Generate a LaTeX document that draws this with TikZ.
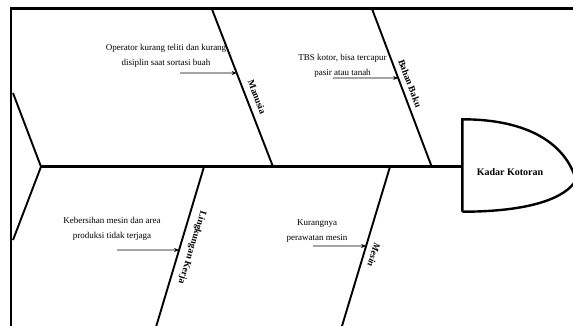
\documentclass[tikz,border=0pt]{standalone}
\usepackage{fontspec}
\setmainfont{Liberation Serif}
\usetikzlibrary{arrows.meta,calc}
\begin{document}
\begin{tikzpicture}[x=1pt,y=-1pt,
  frame/.style={line width=2.4pt},
  spine/.style={line width=2.6pt},
  bone/.style={line width=1.9pt},
  cause/.style={font=\fontsize{9}{15}\selectfont, align=center, inner sep=0pt},
  bonelabel/.style={font=\bfseries\fontsize{9.5}{10}\selectfont, inner sep=0pt},
  headlabel/.style={font=\bfseries\fontsize{10}{11}\selectfont, inner sep=0pt},
  arr/.style={line width=0.8pt, -{Stealth[length=5pt,width=4pt]}}]
\useasboundingbox (0,0) rectangle (573,325);
% frame
\coordinate (fTR) at (575,8.5);
\coordinate (fTL) at (11.2,8.5);
\coordinate (fBL) at (11.2,327);
\draw[frame] (fTR) -- (fTL) -- (fBL);
% tail and spine
\coordinate (tailA) at (13,93);
\coordinate (tailB) at (13,240);
\coordinate (tailApex) at (41,166.7);
\coordinate (headL) at (462.3,166.7);
\draw[bone] (tailA) -- (tailApex) -- (tailB);
\draw[spine] (tailApex) -- (headL);
% head
\coordinate (hTop) at (462.3,119.3);
\coordinate (hBot) at (462.3,211.7);
\coordinate (hTip) at (576,180);
\draw[frame] (hBot) -- (hTop) .. controls (530,119.3) and (566,145) .. (hTip)
  .. controls (566,198) and (530,211.7) .. (hBot);
\node[headlabel] (head) at (510,172) {Kadar Kotoran};
% bones
\coordinate (mTop) at (211.5,8);
\coordinate (mBot) at (273,166.7);
\coordinate (bTop) at (371.7,8);
\coordinate (bBot) at (431.7,166.7);
\coordinate (lTop) at (204,166.7);
\coordinate (lBot) at (156,327);
\coordinate (sTop) at (390,166.7);
\coordinate (sBot) at (341.7,327);
\draw[bone] (mTop) -- (mBot);
\draw[bone] (bTop) -- (bBot);
\draw[bone] (lTop) -- (lBot);
\draw[bone] (sTop) -- (sBot);
% bone labels
\node[bonelabel, rotate=-68.85] (labM) at (257,97) {Manusia};
\node[bonelabel, rotate=-69.3] (labB) at (410,83.5) {Bahan Baku};
\node[bonelabel, rotate=-106.9] (labL) at (192,247.5) {Lingkungan Kerja};
\node[bonelabel, rotate=-106.9] (labS) at (374,255) {\itshape Mesin};
% causes
\node[cause] (cM) at (166,55.5) {Operator kurang teliti dan kurang\\disiplin saat sortasi buah};
\node[cause] (cB) at (342.5,65.5) {TBS kotor, bisa tercapur\\pasir atau tanah};
\node[cause] (cL) at (112,228.5) {Kebersihan mesin dan area\\produksi tidak terjaga};
\node[cause] (cS) at (317,231) {Kurangnya\\perawatan mesin};
% cause arrows
\coordinate (aMs) at (180,73);
\coordinate (aMe) at ($(mTop)!0.4096!(mBot)$);
\coordinate (aBs) at (333,78);
\coordinate (aBe) at ($(bTop)!0.4411!(bBot)$);
\coordinate (aLs) at (117,250);
\coordinate (aLe) at ($(lTop)!0.5196!(lBot)$);
\coordinate (aSs) at (313,246);
\coordinate (aSe) at ($(sTop)!0.4946!(sBot)$);
\draw[arr] (aMs) -- (aMe);
\draw[arr] (aBs) -- (aBe);
\draw[arr] (aLs) -- (aLe);
\draw[arr] (aSs) -- (aSe);
\end{tikzpicture}
\end{document}
